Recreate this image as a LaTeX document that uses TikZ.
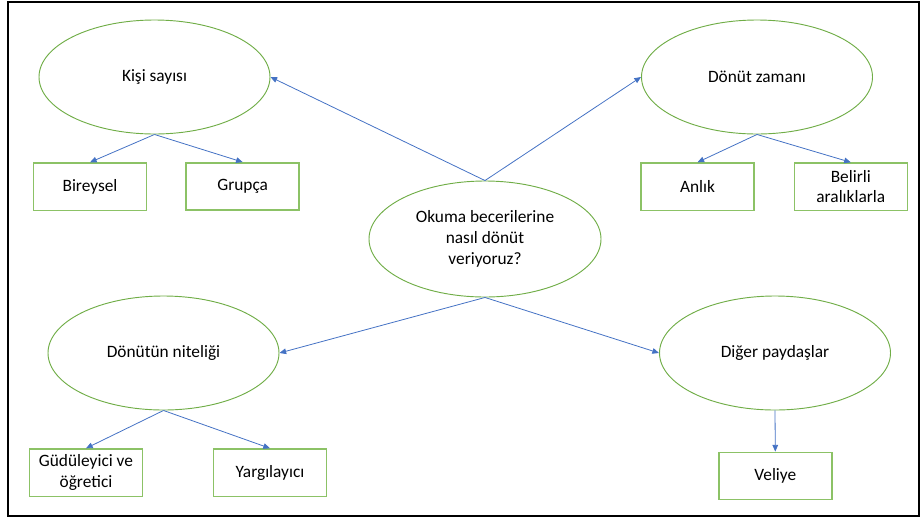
\documentclass[tikz,border=0pt]{standalone}
\usepackage{fontspec}
\setmainfont{Carlito}
\usetikzlibrary{shapes.geometric,arrows.meta}
\definecolor{linkblue}{HTML}{4472C4}
\definecolor{leafgreen}{HTML}{70AD47}
\definecolor{boxgreen}{HTML}{8CC266}
\begin{document}
\begin{tikzpicture}[x=0.75pt,y=-0.75pt,
  every node/.style={font=\fontsize{13pt}{15.5pt}\selectfont, text=black, align=center},
  oval/.style={ellipse, draw=leafgreen, line width=0.7pt, inner sep=0pt,
               minimum width=173.25pt, minimum height=85.5pt},
  leaf/.style={rectangle, draw=boxgreen, line width=1.1pt, inner sep=0pt,
               minimum width=84.75pt, minimum height=35.5pt},
  link/.style={draw=linkblue, line width=0.6pt,
               -{Triangle[length=5pt,width=4.2pt]}}]
  \useasboundingbox (0,0) rectangle (921,519);
  % outer frame
  \draw[black, line width=1.1pt] (8,2) rectangle (919,516);

  % central question and the four topics
  \node[oval, minimum width=174pt, minimum height=87pt] (hub) at (485,239)
    {Okuma becerilerine\\nasıl dönüt\\veriyoruz?};
  \node[oval] (kisi)    at (154.5,77)  {Kişi sayısı};
  \node[oval] (zaman)   at (757,77)    {Dönüt zamanı};
  \node[oval] (nitelik) at (163.5,353) {Dönütün niteliği};
  \node[oval] (diger)   at (775,353)   {Diğer paydaşlar};

  % answers under each topic
  \node[leaf] (bireysel) at (90,186.7)    {Bireysel};
  \node[leaf] (grupca)   at (242.7,186.5) {Grupça};
  \node[leaf] (anlik)    at (697.5,186.7) {Anlık};
  \node[leaf] (belirli)  at (850.8,186.7) {Belirli\\aralıklarla};
  \node[leaf] (gudu)     at (86,472.7)    {Güdüleyici ve\\öğretici};
  \node[leaf] (yargi)    at (270,472.7)   {Yargılayıcı};
  \node[leaf] (veliye)   at (775.3,476)   {Veliye};

  % connectors
  \draw[link] (hub.north) -- (kisi.east);
  \draw[link] (hub.north) -- (zaman.west);
  \draw[link] (hub.south) -- (nitelik.east);
  \draw[link] (hub.south) -- (diger.west);
  \draw[link] (kisi.south) -- (bireysel.north);
  \draw[link] (kisi.south) -- (grupca.north);
  \draw[link] (zaman.south) -- (anlik.north);
  \draw[link] (zaman.south) -- (belirli.north);
  \draw[link] (nitelik.south) -- (gudu.north);
  \draw[link] (nitelik.south) -- (yargi.north);
  \draw[link] (diger.south) -- (veliye.north);
\end{tikzpicture}
\end{document}
